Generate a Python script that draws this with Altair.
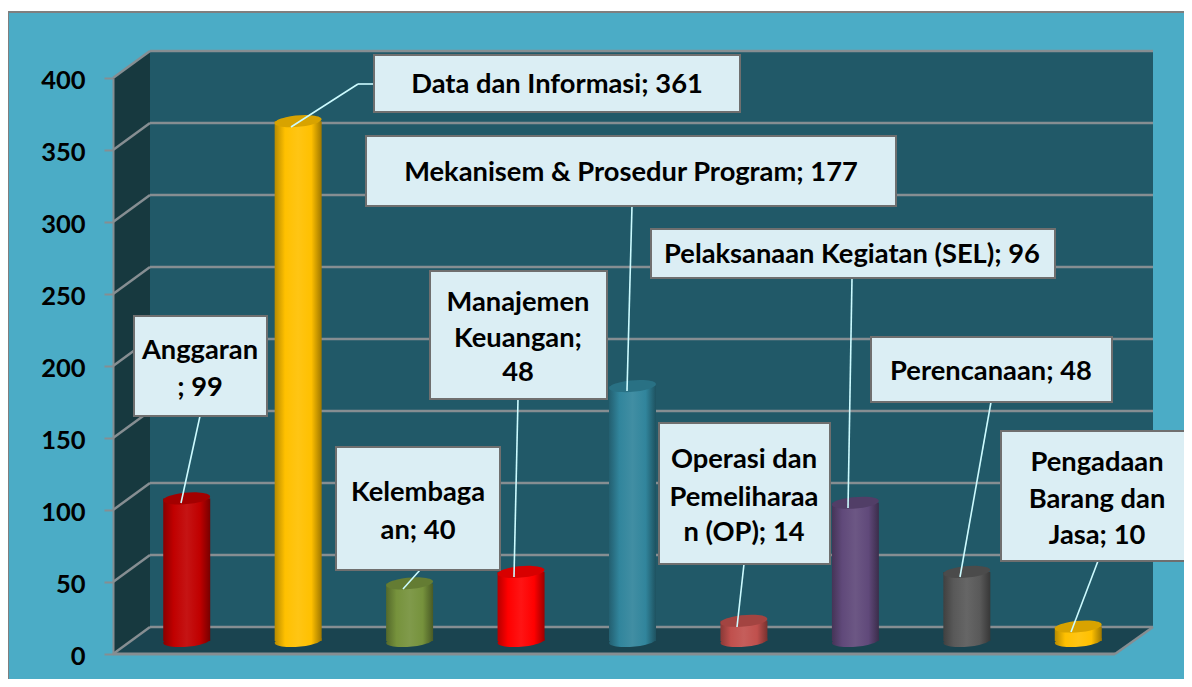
import altair as alt
import pandas as pd

categories = ["Anggaran", "Data dan Informasi", "Kelembagaan", "Manajemen Keuangan",
              "Mekanisem & Prosedur Program", "Operasi dan Pemeliharaan (OP)",
              "Pelaksanaan Kegiatan (SEL)", "Perencanaan", "Pengadaan Barang dan Jasa"]
values = [99, 361, 40, 48, 177, 14, 96, 48, 10]
ticks = [0, 50, 100, 150, 200, 250, 300, 350, 400]
label_lines = [["Anggaran", "; 99"], ["Data dan Informasi; 361"], ["Kelembaga", "an; 40"],
               ["Manajemen", "Keuangan;", "48"], ["Mekanisem & Prosedur Program; 177"],
               ["Operasi dan", "Pemeliharaa", "n (OP); 14"], ["Pelaksanaan Kegiatan (SEL); 96"],
               ["Perencanaan; 48"], ["Pengadaan", "Barang dan", "Jasa; 10"]]

bar_colors = ["#c00000", "#ffc000", "#76923c", "#ff0000", "#31859c", "#c0504d", "#60497a", "#595959", "#ffc000"]

# ---- layout (page pixels of the picture; converted to plot pixels below)
OX, OY = 131, 78
PW, PH = 1003, 576
W, H = 1176, 671
def X(v): return v - OX
def Y(v): return v - OY
DEPTH_MID = 13
BAR_W = 47
ELLIPSE = "M -0.996 0.087 A 1 0.24 -5 1 0 0.996 -0.087 A 1 0.24 -5 1 0 -0.996 0.087 Z"
FONT = "Lato"
FS = 27.3
TEXT_DY = 1
GRID = "#868e92"
BOX = {
    0: dict(b=(134, 316, 267, 416), cx=200, ys=[350, 387], lead=[(200, 416, 181, 503)]),
    1: dict(b=(374, 55, 740, 112), cx=557, ys=[84], lead=[(374, 84, 358, 84), (358, 84, 291, 127)]),
    2: dict(b=(336, 447, 500, 570), cx=418, ys=[492, 530], lead=[(420, 570, 403, 589)]),
    3: dict(b=(430, 271, 607, 399), cx=518, ys=[302, 338, 372], lead=[(518, 399, 514, 577)]),
    4: dict(b=(366, 136, 896, 206), cx=631, ys=[172], lead=[(632, 206, 627, 391)]),
    5: dict(b=(659, 423, 830, 564), cx=744, ys=[459, 497, 532], lead=[(744, 564, 737, 627)]),
    6: dict(b=(651, 229, 1055, 278), cx=852, ys=[254], lead=[(852, 278, 848, 508)]),
    7: dict(b=(871, 337, 1112, 402), cx=991, ys=[371], lead=[(991, 402, 960, 577)]),
    8: dict(b=(1001, 431, 1194, 561), cx=1097, ys=[462, 499, 535], lead=[(1098, 561, 1071, 632)]),
}

def shade(h, f):
    r, g, b = int(h[1:3], 16), int(h[3:5], 16), int(h[5:7], 16)
    if f <= 1:
        r, g, b = r * f, g * f, b * f
    else:
        k = f - 1
        r, g, b = r + (255 - r) * k, g + (255 - g) * k, b + (255 - b) * k
    return "#%02x%02x%02x" % (int(r), int(g), int(b))

one = pd.DataFrame({"a": [0]})
xs = alt.Scale(domain=categories, paddingInner=0, paddingOuter=0)
ys = alt.Scale(domain=[0, 400], range=[PH, 0], nice=False)

def rect(x0, y0, x1, y1, fill, stroke=None, sw=0):
    kw = dict(fill=fill, opacity=1)
    if stroke:
        kw.update(stroke=stroke, strokeWidth=sw)
    return alt.Chart(one).mark_rect(**kw).encode(
        x=alt.value(X(x0)), x2=alt.value(X(x1)), y=alt.value(Y(y0)), y2=alt.value(Y(y1)))

def seg(x0, y0, x1, y1, color, sw):
    return alt.Chart(one).mark_rule(stroke=color, strokeWidth=sw).encode(
        x=alt.value(X(x0)), x2=alt.value(X(x1)), y=alt.value(Y(y0)), y2=alt.value(Y(y1)))

def poly(xv, y0v, y1v, fill):
    d = pd.DataFrame({"x": [X(v) for v in xv], "y": [Y(v) for v in y0v], "y2": [Y(v) for v in y1v]})
    return alt.Chart(d).mark_area(fill=fill, opacity=1, line=False).encode(
        x=alt.X("x:Q", scale=None, axis=None),
        y=alt.Y("y:Q", scale=None, axis=None),
        y2="y2:Q")

layers = []
# panel
layers.append(rect(8, 12, 1200, 690, "#4bacc6", "#7f7f7f", 2))
# walls
layers.append(rect(150, 51, 1153, 627, "#215968"))
layers.append(poly([113, 150], [78, 51], [654, 627], "#17393f"))
layers.append(poly([113, 150, 1115, 1153], [654, 627, 627, 627], [654, 654, 654, 627], "#1a4450"))

# grid
gd = pd.DataFrame({"v": ticks})
gy = alt.Y("v:Q", scale=ys, axis=None)
layers.append(alt.Chart(gd).mark_rule(stroke=GRID, strokeWidth=2.5, yOffset=-27).encode(
    y=gy, x=alt.value(X(150)), x2=alt.value(X(1153))))
layers.append(alt.Chart(gd).mark_rule(stroke=GRID, strokeWidth=2.5, yOffset=0, y2Offset=-27).encode(
    y=gy, y2="v:Q", x=alt.value(X(113)), x2=alt.value(X(150))))
layers.append(seg(1115, 654, 1153, 627, GRID, 2.5))
layers.append(seg(113, 654, 1115, 654, GRID, 3))

# axis
layers.append(alt.Chart(gd).mark_rule(opacity=0).encode(
    y=alt.Y("v:Q", scale=ys, title=None, axis=alt.Axis(
        values=ticks, offset=18, grid=False, zindex=1,
        domainColor=GRID, domainWidth=2, tickColor=GRID, tickWidth=2, tickSize=9,
        labelFont=FONT, labelFontWeight="bold", labelFontSize=25.5, labelColor="black",
        labelPadding=19, labelOffset=2))))

# bars
for i, c in enumerate(categories):
    d = pd.DataFrame({"cat": [c], "val": [values[i]], "zero": [0]})
    base = bar_colors[i]
    grad = {"gradient": "linear", "x1": 0, "x2": 1, "y1": 0, "y2": 0, "stops": [
        {"offset": 0, "color": shade(base, 0.72)},
        {"offset": 0.22, "color": base},
        {"offset": 0.5, "color": shade(base, 1.08)},
        {"offset": 0.78, "color": base},
        {"offset": 1, "color": shade(base, 0.62)}]}
    x = alt.X("cat:N", scale=xs, axis=None)
    layers.append(alt.Chart(d).mark_point(shape=ELLIPSE, size=BAR_W ** 2, filled=True, fill=grad,
                                          opacity=1, strokeWidth=0, yOffset=-DEPTH_MID).encode(
        x=x, y=alt.Y("zero:Q", scale=ys, axis=None)))
    layers.append(alt.Chart(d).mark_bar(width=BAR_W, fill=grad, opacity=1, yOffset=-DEPTH_MID, y2Offset=-DEPTH_MID).encode(
        x=x, y=alt.Y("val:Q", scale=ys, axis=None), y2="zero:Q"))
    layers.append(alt.Chart(d).mark_point(shape=ELLIPSE, size=BAR_W ** 2, filled=True, fill=shade(base, 0.85),
                                          opacity=1, strokeWidth=0, yOffset=-DEPTH_MID).encode(
        x=x, y=alt.Y("val:Q", scale=ys, axis=None)))

# callouts
for i, lines in enumerate(label_lines):
    o = BOX[i]
    for l in o["lead"]:
        layers.append(seg(*l, "#ccfbff", 1.6))
for i, lines in enumerate(label_lines):
    o = BOX[i]
    layers.append(rect(*o["b"], "#dbeef4", "#6f6f6f", 2))
    for t, yy in zip(lines, o["ys"]):
        d = pd.DataFrame({"t": [t]})
        layers.append(alt.Chart(d).mark_text(font=FONT, fontWeight="bold", fontSize=FS, color="black",
                                             align="center", baseline="middle").encode(
            text="t:N", x=alt.value(X(o["cx"])), y=alt.value(Y(yy + TEXT_DY))))

chart = alt.layer(*layers).resolve_scale(x="independent", y="independent").properties(
    width=PW, height=PH,
    background="white",
    padding={"left": OX - 8, "top": OY - 8, "right": W - PW - (OX - 8), "bottom": H - PH - (OY - 8)},
    autosize=alt.AutoSizeParams(type="none"),
).configure_view(stroke=None)

chart.save("out.html", embed_options={"renderer": "svg", "actions": False})
